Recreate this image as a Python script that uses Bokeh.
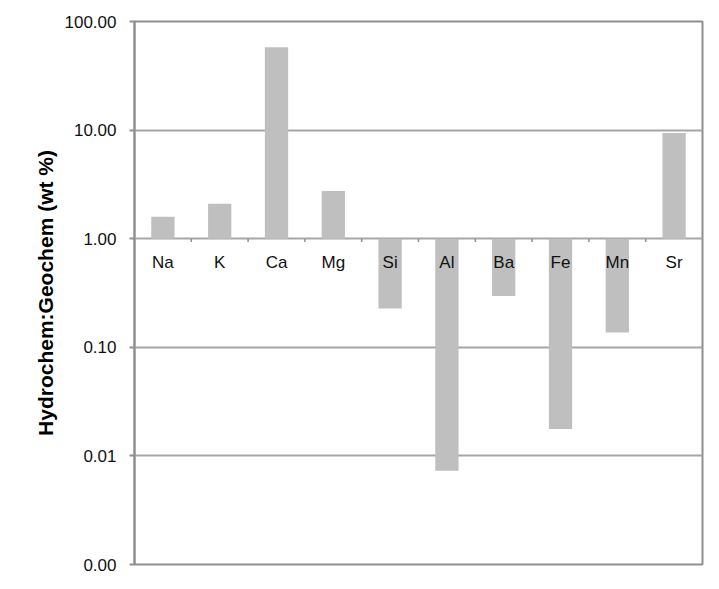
from bokeh.plotting import figure
from bokeh.models import Range1d, FixedTicker, CustomJSTickFormatter
from bokeh.core.properties import value
from bokeh.embed import file_html
from bokeh.resources import INLINE

elements = ["Na", "K", "Ca", "Mg", "Si", "Al", "Ba", "Fe", "Mn", "Sr"]
ratios = [1.59, 2.1, 58.0, 2.75, 0.228, 0.0073, 0.297, 0.0177, 0.137, 9.4]
y_ticks = [0.001, 0.01, 0.1, 1, 10, 100]
baseline = 1.0

FONT = "Liberation Sans"
GRID = "#a6a6a6"
FRAME = "#8f8f8f"
BAR = "#bfbfbf"
TICK_FACTOR = 0.93

n = len(elements)
centers = [i + 0.5 for i in range(n)]
bounds = list(range(1, n))

p = figure(width=705, height=578, x_range=Range1d(0, n), y_range=Range1d(y_ticks[0], y_ticks[-1]),
           y_axis_type="log", x_axis_type=None, output_backend="svg", toolbar_location=None)
p.min_border_left = 134
p.min_border_top = 21
p.min_border_right = 3
p.min_border_bottom = 14

p.vbar(x=centers, width=0.41, bottom=baseline, top=ratios, fill_color=BAR, line_color=None)

p.segment(x0=bounds, y0=[baseline] * len(bounds), x1=bounds, y1=[baseline * TICK_FACTOR] * len(bounds),
          line_color=FRAME, line_width=1.5)

p.text(x=centers, y=[baseline] * n, text=elements, text_align="center", text_baseline="middle",
       y_offset=24, text_font=value(FONT), text_font_size="17px", text_color="#111111")

ticker = FixedTicker(ticks=y_ticks, minor_ticks=[])
p.yaxis.ticker = ticker
p.ygrid.ticker = ticker
p.ygrid.grid_line_color = GRID
p.ygrid.grid_line_width = 2
p.yaxis.formatter = CustomJSTickFormatter(code="return tick.toFixed(2);")
p.yaxis.major_label_text_font = FONT
p.yaxis.major_label_text_font_size = "17px"
p.yaxis.major_label_text_color = "#111111"
p.yaxis.major_label_standoff = 13
p.yaxis.axis_line_color = FRAME
p.yaxis.axis_line_width = 2
p.yaxis.major_tick_line_color = FRAME
p.yaxis.major_tick_line_width = 2
p.yaxis.major_tick_out = 5
p.yaxis.major_tick_in = 0
p.yaxis.minor_tick_line_color = None
p.yaxis.axis_label = "Hydrochem:Geochem (wt %)"
p.yaxis.axis_label_text_font = FONT
p.yaxis.axis_label_text_font_style = "bold"
p.yaxis.axis_label_text_font_size = "21px"
p.yaxis.axis_label_text_color = "#000000"
p.yaxis.axis_label_standoff = 5

p.outline_line_color = FRAME
p.outline_line_width = 2
p.background_fill_color = "white"
p.border_fill_color = "white"

open("out.html", "w").write(file_html(p, INLINE))
